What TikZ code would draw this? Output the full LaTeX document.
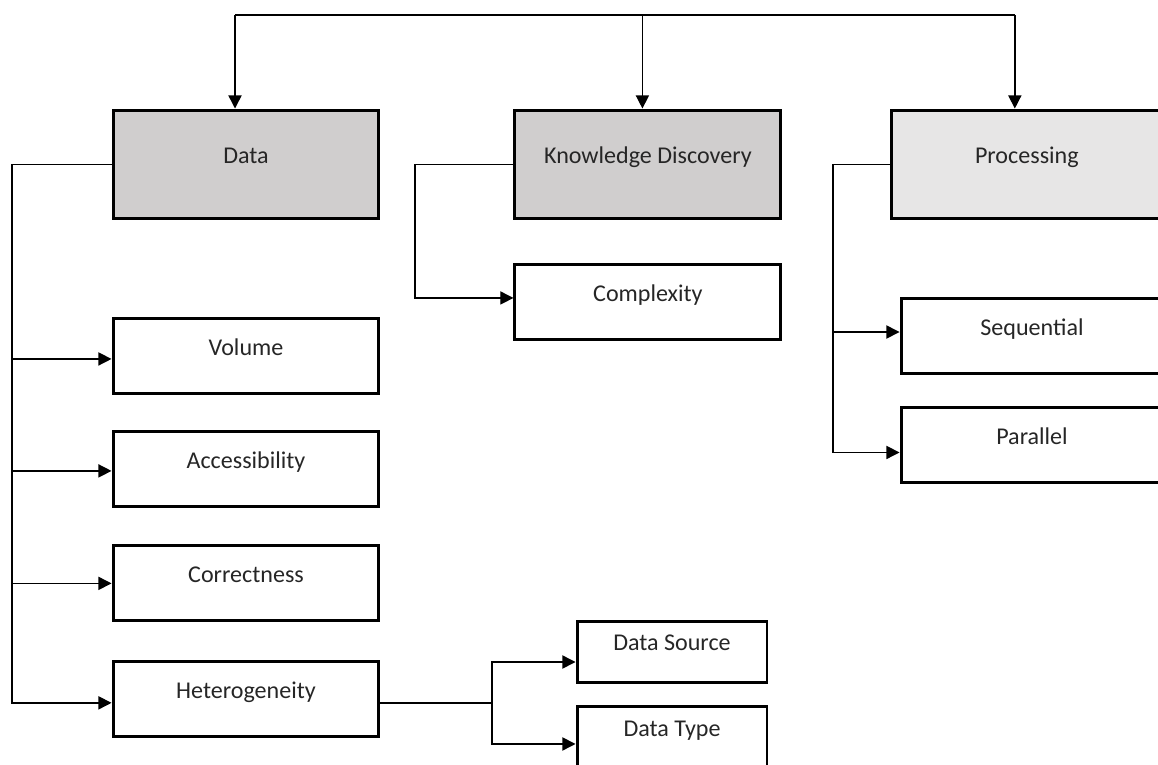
\documentclass[tikz,border=0pt]{standalone}
\usepackage{fontspec}
\setmainfont{Carlito}
\usepackage{tikz}
\usetikzlibrary{arrows.meta,positioning}
\definecolor{topgray}{RGB}{208,206,206}
\definecolor{procgray}{RGB}{231,230,230}
\definecolor{textgray}{RGB}{38,38,38}
\begin{document}
\begin{tikzpicture}[x=0.02cm,y=-0.02cm,
        box/.style={rectangle,draw,line width=1.7pt,minimum width=5.32cm,minimum height=1.5cm,
            text=textgray,font=\fontsize{13.7}{16}\selectfont,text height=9.5pt,text depth=10.5pt},
        topbox/.style={box,fill=topgray,minimum height=2.18cm},
        arr/.style={line width=0.8pt,-{Triangle[length=7.5pt,width=7.5pt]}}]
        \useasboundingbox (0,0) rectangle (1158,764);

        \node[topbox] (data) at (246,164.5) {Data};
        \node[topbox] (kd) [right=2.66cm of data] {Knowledge Discovery};
        \node[topbox,fill=procgray,minimum width=5.4cm] (proc) [right=2.16cm of kd] {Processing};

        \node[box] (complexity) [below=0.86cm of kd] {Complexity};
        \node[box] (volume) [below=1.94cm of data] {Volume};
        \node[box] (access) [below=0.7cm of volume] {Accessibility};
        \node[box] (correct) [below=0.72cm of access] {Correctness};
        \node[box] (hetero) [below=0.76cm of correct] {Heterogeneity};
        \node[box,minimum width=5.24cm] (seq) at (1032,336) {Sequential};
        \node[box,minimum width=5.24cm] (par) [below=0.62cm of seq] {Parallel};
        \node[box,minimum width=3.8cm,minimum height=1.22cm] (dsource) at (672,651.5) {Data Source};
        \node[box,minimum width=3.8cm,minimum height=1.22cm] (dtype) [below=0.44cm of dsource] {Data Type};

        \coordinate (bus) at (0,15);
        \coordinate (dspine) at (12,0);
        \coordinate (kspine) at (415,0);
        \coordinate (pspine) at (833,0);
        \coordinate (hjoin) at (492,0);

        \draw[line width=0.8pt] ([xshift=-0.22cm]data.north |- bus) -- ([xshift=-0.24cm]proc.north |- bus);
        \foreach \n/\s in {data/-0.22cm,kd/-0.11cm,proc/-0.24cm}{
            \draw[arr] ([xshift=\s]\n.north |- bus) -- ([xshift=\s]\n.north);
        }
        \foreach \n/\s in {volume/-0.05cm,access/-0.03cm,correct/0cm,hetero/-0.07cm}{
            \draw[arr] (data.west) -- (dspine |- data.west) |- ([yshift=\s]\n.west);
        }
        \draw[arr] (kd.west) -- (kspine |- kd.west) |- ([yshift=0.09cm]complexity.west);
        \foreach \n/\s in {seq/0.08cm,par/-0.15cm}{
            \draw[arr] (proc.west) -- (pspine |- proc.west) |- ([yshift=\s]\n.west);
        }
        \foreach \n/\s in {dsource/-0.21cm,dtype/-0.13cm}{
            \draw[arr] ([yshift=-0.07cm]hetero.east) -- ([yshift=-0.07cm]hjoin |- hetero.east) |- ([yshift=\s]\n.west);
        }
    \end{tikzpicture}
\end{document}
